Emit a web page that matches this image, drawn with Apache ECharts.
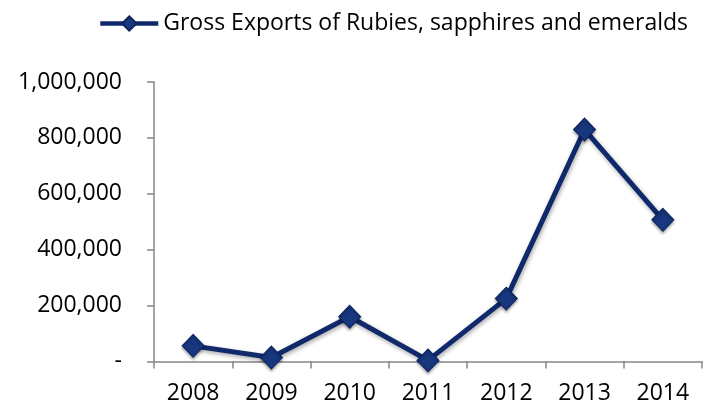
<!DOCTYPE html>
<html>
<head>
<meta charset="utf-8">
<script src="https://cdn.jsdelivr.net/npm/echarts@6/dist/echarts.min.js"></script>
<style>html,body{margin:0;padding:0;background:#fff}#c{width:709px;height:408px}</style>
</head>
<body>
<div id="c"></div>
<script>
const categories = ['2008','2009','2010','2011','2012','2013','2014'];
const seriesName = 'Gross Exports of Rubies, sapphires and emeralds';
const values = [56000, 14000, 160000, 4000, 225000, 830000, 507000];
const yTicks = [0, 200000, 400000, 600000, 800000, 1000000];

const chart = echarts.init(document.getElementById('c'));
const font = 'Open Sans';
chart.setOption({
  animation: false,
  grid: {left: 154, right: 7, top: 82, bottom: 46.5},
  legend: {
    data: [seriesName], left: 93, top: 7, padding: 5,
    itemWidth: 58, itemHeight: 18, itemGap: 3,
    lineStyle: {width: 4.5},
    textStyle: {fontFamily: font, fontSize: 23, color: '#000'}
  },
  xAxis: {
    type: 'category', data: categories, boundaryGap: true,
    axisLine: {lineStyle: {color: '#868686', width: 1.5}},
    axisTick: {show: true, length: 7, lineStyle: {color: '#868686', width: 1.5}},
    axisLabel: {fontFamily: font, fontSize: 23, color: '#000', margin: 20}
  },
  yAxis: {
    type: 'value', min: 0, max: yTicks[yTicks.length - 1], interval: yTicks[1] - yTicks[0],
    axisLine: {show: true, lineStyle: {color: '#868686', width: 1.5}},
    axisTick: {show: true, length: 7, lineStyle: {color: '#868686', width: 1.5}},
    splitLine: {show: false},
    axisLabel: {
      fontFamily: font, fontSize: 23, color: '#000', margin: 32,
      formatter: v => v === 0 ? '-' : v.toLocaleString('en-US')
    }
  },
  series: [{
    name: seriesName, type: 'line', data: values,
    symbol: 'diamond', symbolSize: [22, 23],
    lineStyle: {color: '#10296B', width: 5, shadowBlur: 4, shadowColor: 'rgba(0,0,0,0.35)', shadowOffsetY: 2, shadowOffsetX: 1},
    itemStyle: {color: '#17377F', borderColor: '#0C2260', borderWidth: 1, shadowBlur: 3, shadowColor: 'rgba(0,0,0,0.35)', shadowOffsetY: 2}
  }]
});
</script>
</body>
</html>
